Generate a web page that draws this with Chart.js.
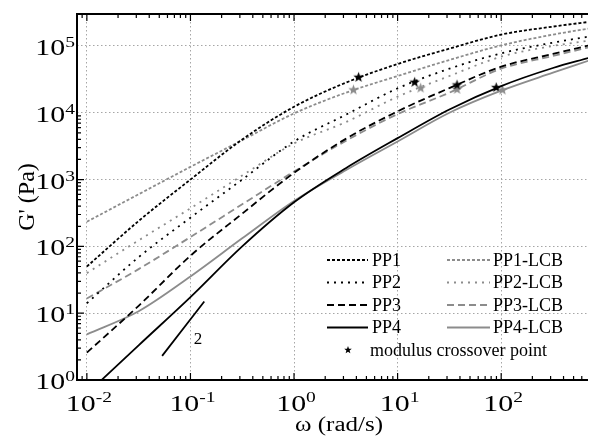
<!DOCTYPE html>
<html lang="en">
<head>
<meta charset="UTF-8">
<title>Storage modulus G' vs frequency</title>
<script src="https://cdn.jsdelivr.net/npm/chart.js"></script>
<style>
  body { margin: 0; background: #fff; }
  .chart-box { width: 595px; height: 436px; }
</style>
</head>
<body>
<div class="chart-box"><canvas id="gChart" width="595" height="436"></canvas></div>
<script>
// angular frequency (rad/s), shared by all the curves
const omega = [0.01, 0.0316, 0.1, 0.316, 1, 3.16, 10, 31.6, 100, 316, 700];

// G' (Pa)
const pp1    = [50, 240, 1000, 3980, 12300, 28200, 53700, 91200, 148000, 195000, 229000];
const pp2    = [14.1, 69, 269, 1000, 3720, 9330, 23200, 45700, 77600, 112000, 138000];
const pp3    = [2.57, 12.9, 72.4, 309, 1260, 4070, 10500, 23400, 49000, 75900, 102000];
const pp4    = [0.62, 3.3, 17.4, 100, 457, 1480, 4170, 11200, 25100, 46800, 66100];
const pp1Lcb = [234, 603, 1550, 3890, 9770, 19950, 35500, 61700, 102000, 148000, 182000];
const pp2Lcb = [39.8, 123, 372, 1150, 3470, 7240, 17400, 35500, 69200, 100000, 120000];
const pp3Lcb = [16.6, 45.7, 138, 427, 1320, 3800, 9550, 20000, 45700, 70800, 95500];
const pp4Lcb = [4.83, 10.7, 35.5, 132, 479, 1380, 3720, 10000, 21400, 39800, 60300];

// modulus crossover points
const crossOmegaPP  = [4.2, 14.6, 37.5, 89.6];
const crossGPP      = [34000, 28600, 26000, 23800];
const crossOmegaLcb = [3.75, 16.7, 37.5, 103];
const crossGLcb     = [22000, 23400, 22400, 21900];

// slope-2 guide line
const slopeOmega = [0.0533, 0.136];
const slopeG     = [2.3, 14.97];

const xTickExp = [-2, -1, 0, 1, 2];
const yTickExp = [0, 1, 2, 3, 4, 5];

const SERIF = '"Liberation Serif", "Times New Roman", serif';
const BLACK = '#000000';
const GRAY = '#8c8c8c';
const DASH_SHORT = [3, 2];
const DOTS = [2, 5];
const DASH_LONG = [7, 4];

function makeStar(color, r) {
  const c = document.createElement('canvas');
  const s = Math.ceil(r * 2) + 2;
  c.width = s; c.height = s;
  const g = c.getContext('2d');
  g.fillStyle = color;
  g.beginPath();
  for (let i = 0; i < 10; i++) {
    const rad = i % 2 ? r * 0.42 : r;
    const a = -Math.PI / 2 + i * Math.PI / 5;
    g.lineTo(s / 2 + rad * Math.cos(a), s / 2 + rad * Math.sin(a));
  }
  g.closePath();
  g.fill();
  return c;
}

function curve(label, xs, ys, color, dash) {
  return {
    label: label,
    data: xs.map((w, i) => ({ x: w, y: ys[i] })),
    borderColor: color,
    borderDash: dash,
    borderWidth: 1.8,
    pointRadius: 0,
    fill: false,
    cubicInterpolationMode: 'monotone'
  };
}

function stars(label, xs, ys, color) {
  return {
    label: label,
    data: xs.map((w, i) => ({ x: w, y: ys[i] })),
    showLine: false,
    pointStyle: makeStar(color, 5.5),
    pointRadius: 6,
    borderColor: color,
    backgroundColor: color
  };
}

const isDecade = v => Math.abs(Math.log10(v) - Math.round(Math.log10(v))) < 1e-6;

// text drawn a little wider than the font, as in the original figure
function wideText(ctx, txt, x, y, size, sx) {
  ctx.font = size + 'px ' + SERIF;
  const w = ctx.measureText(txt).width * sx;
  ctx.save();
  ctx.translate(x, y);
  ctx.scale(sx, 1);
  ctx.fillText(txt, 0, 0);
  ctx.restore();
  return w;
}

function textWidth(ctx, txt, size, sx) {
  ctx.font = size + 'px ' + SERIF;
  return ctx.measureText(txt).width * sx;
}

const frameAndLabels = {
  id: 'frameAndLabels',
  afterDraw(chart) {
    const { ctx, chartArea: a, scales: { x, y } } = chart;
    ctx.save();
    ctx.strokeStyle = BLACK;
    ctx.fillStyle = BLACK;
    ctx.setLineDash([]);

    // inward tick marks
    ctx.lineWidth = 1.2;
    ctx.beginPath();
    for (let e = -3; e <= 3; e++) {
      for (let m = 1; m <= 9; m++) {
        const v = m * Math.pow(10, e);
        const len = m === 1 ? 7 : 4;
        const px = x.getPixelForValue(v);
        if (px >= a.left && px <= a.right) {
          ctx.moveTo(px, a.bottom); ctx.lineTo(px, a.bottom - len);
          ctx.moveTo(px, a.top); ctx.lineTo(px, a.top + len);
        }
        const py = y.getPixelForValue(v);
        if (py >= a.top && py <= a.bottom) {
          ctx.moveTo(a.left, py); ctx.lineTo(a.left + len, py);
        }
      }
    }
    ctx.stroke();

    // frame
    ctx.lineWidth = 2;
    ctx.beginPath();
    ctx.moveTo(a.right, a.top); ctx.lineTo(a.left, a.top);
    ctx.lineTo(a.left, a.bottom); ctx.lineTo(a.right, a.bottom);
    ctx.stroke();

    // tick labels 10^n
    ctx.textBaseline = 'alphabetic';
    ctx.textAlign = 'left';
    const big = 23, small = 15, sx = 1.3;
    yTickExp.forEach(e => {
      const py = y.getPixelForValue(Math.pow(10, e));
      const w = textWidth(ctx, '10', big, sx) + textWidth(ctx, String(e), small, sx);
      let cx = a.left - 2 - w;
      cx += wideText(ctx, '10', cx, py + 9, big, sx);
      wideText(ctx, String(e), cx, py + 1, small, sx);
    });
    xTickExp.forEach(e => {
      const px = x.getPixelForValue(Math.pow(10, e));
      const w = textWidth(ctx, '10', big, sx) + textWidth(ctx, String(e), small, sx);
      let cx = px - w / 2 + 2;
      cx += wideText(ctx, '10', cx, a.bottom + 31, big, sx);
      wideText(ctx, String(e), cx, a.bottom + 22, small, sx);
    });

    // axis titles
    ctx.textAlign = 'center';
    ctx.font = '20px ' + SERIF;
    ctx.save();
    ctx.translate(339, 431);
    ctx.scale(1.25, 1);
    ctx.fillText('\u03c9 (rad/s)', 0, 0);
    ctx.restore();
    ctx.save();
    ctx.translate(34, (a.top + a.bottom) / 2);
    ctx.rotate(-Math.PI / 2);
    ctx.font = '24px ' + SERIF;
    ctx.fillText("G' (Pa)", 0, 0);
    ctx.restore();

    // slope label
    ctx.font = '17px ' + SERIF;
    ctx.fillText('2', 198, 344);

    // legend, two columns
    ctx.textAlign = 'left';
    ctx.textBaseline = 'middle';
    ctx.font = '18px ' + SERIF;
    const rows = [260, 282.5, 305, 327.5];
    const cols = [[327, 368, 372], [447, 490, 493]];
    const ds = chart.data.datasets;
    for (let i = 0; i < 8; i++) {
      const d = ds[i];
      const col = cols[Math.floor(i / 4)];
      const ry = rows[i % 4];
      ctx.strokeStyle = d.borderColor;
      ctx.lineWidth = d.borderWidth;
      ctx.setLineDash(d.borderDash || []);
      ctx.beginPath();
      ctx.moveTo(col[0], ry); ctx.lineTo(col[1], ry);
      ctx.stroke();
      ctx.fillStyle = BLACK;
      ctx.fillText(d.label, col[2], ry + 1);
    }
    ctx.setLineDash([]);
    const legendStar = makeStar(BLACK, 4);
    ctx.drawImage(legendStar, 348 - legendStar.width / 2, 350 - legendStar.height / 2);
    ctx.fillText('modulus crossover point', 370, 351);
    ctx.restore();
  }
};

new Chart(document.getElementById('gChart'), {
  type: 'line',
  data: {
    datasets: [
      curve('PP1', omega, pp1, BLACK, DASH_SHORT),
      curve('PP2', omega, pp2, BLACK, DOTS),
      curve('PP3', omega, pp3, BLACK, DASH_LONG),
      curve('PP4', omega, pp4, BLACK, []),
      curve('PP1-LCB', omega, pp1Lcb, GRAY, DASH_SHORT),
      curve('PP2-LCB', omega, pp2Lcb, GRAY, DOTS),
      curve('PP3-LCB', omega, pp3Lcb, GRAY, DASH_LONG),
      curve('PP4-LCB', omega, pp4Lcb, GRAY, []),
      curve('slope', slopeOmega, slopeG, BLACK, []),
      stars('crossover PP', crossOmegaPP, crossGPP, BLACK),
      stars('crossover LCB', crossOmegaLcb, crossGLcb, GRAY)
    ]
  },
  options: {
    responsive: false,
    animation: false,
    layout: { padding: { left: 77, top: 14, right: 0, bottom: 56 } },
    plugins: { legend: { display: false }, tooltip: { enabled: false } },
    scales: {
      x: {
        type: 'logarithmic',
        min: 0.00803,
        max: 689,
        ticks: { display: false },
        grid: {
          drawTicks: false,
          lineWidth: 1,
          color: c => isDecade(c.tick.value) ? '#a6a6a6' : 'rgba(0,0,0,0)'
        },
        border: { display: false, dash: [1.5, 2.5] }
      },
      y: {
        type: 'logarithmic',
        min: 1,
        max: 301000,
        ticks: { display: false },
        grid: {
          drawTicks: false,
          lineWidth: 1,
          color: c => isDecade(c.tick.value) ? '#a6a6a6' : 'rgba(0,0,0,0)'
        },
        border: { display: false, dash: [1.5, 2.5] }
      }
    }
  },
  plugins: [frameAndLabels]
});
</script>
</body>
</html>
